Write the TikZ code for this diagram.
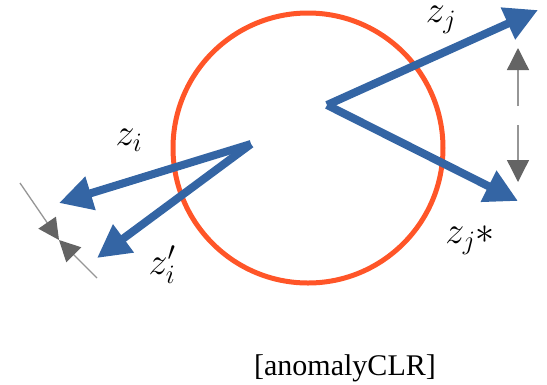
\RequirePackage{fix-cm}
\documentclass[tikz,border=0pt]{standalone}
\usepackage{fontspec}
\setmainfont{Liberation Serif}
\usetikzlibrary{arrows.meta}
\definecolor{vblue}{RGB}{52,101,164}
\definecolor{ring}{RGB}{255,85,40}
\definecolor{dgray}{RGB}{100,100,100}
\definecolor{lgray}{RGB}{150,150,150}
\tikzset{
  vec/.style={draw=vblue, line width=8pt, -{Triangle[length=33pt,width=33pt]}},
  gap/.style={draw=lgray, line width=1.3pt, -{Triangle[length=22pt,width=22pt,color=dgray]}},
  lab/.style={font=\fontsize{38}{40}\selectfont, inner sep=0pt},
  captiontext/.style={font=\fontsize{30}{32}\selectfont, inner sep=0pt}
}
\begin{document}
\begin{tikzpicture}[x=1pt,y=-1pt]
\useasboundingbox (0,0) rectangle (547,384);
\node[draw=ring, line width=5pt, circle, minimum size=270pt, inner sep=0pt] (ring) at (308,148) {};
\coordinate (oj) at (327,105);
\coordinate (oi) at (251,144);
\coordinate (tj) at (538,10);
\coordinate (tjs) at (518,201);
\coordinate (ti) at (59,203);
\coordinate (tip) at (97,258);
\draw[vec] (oj) -- (tj);
\draw[vec] (oj) -- (tjs);
\draw[vec] (oi) -- (ti);
\draw[vec] (oi) -- (tip);
\coordinate (u0) at (518,106);
\coordinate (u1) at (518,48);
\coordinate (d0) at (518,125);
\coordinate (d1) at (518,182);
\draw[gap] (u0) -- (u1);
\draw[gap] (d0) -- (d1);
\coordinate (a0) at (20,183);
\coordinate (am) at (59,240);
\coordinate (a1) at (97,278);
\draw[gap, -{Triangle[length=21pt,width=21pt,color=dgray]}] (a0) -- (am);
\draw[gap, -{Triangle[length=21pt,width=21pt,color=dgray]}] (a1) -- (am);
\node[lab] (lj) at (441,20) {$z_j$};
\node[lab] (ljs) at (470,240) {$z_j{*}$};
\node[lab] (li) at (129,140) {$z_i$};
\node[lab] (lip) at (162,265) {$z'_i$};
\node[captiontext] (c) at (345,368) {[anomalyCLR]};
\end{tikzpicture}
\end{document}
